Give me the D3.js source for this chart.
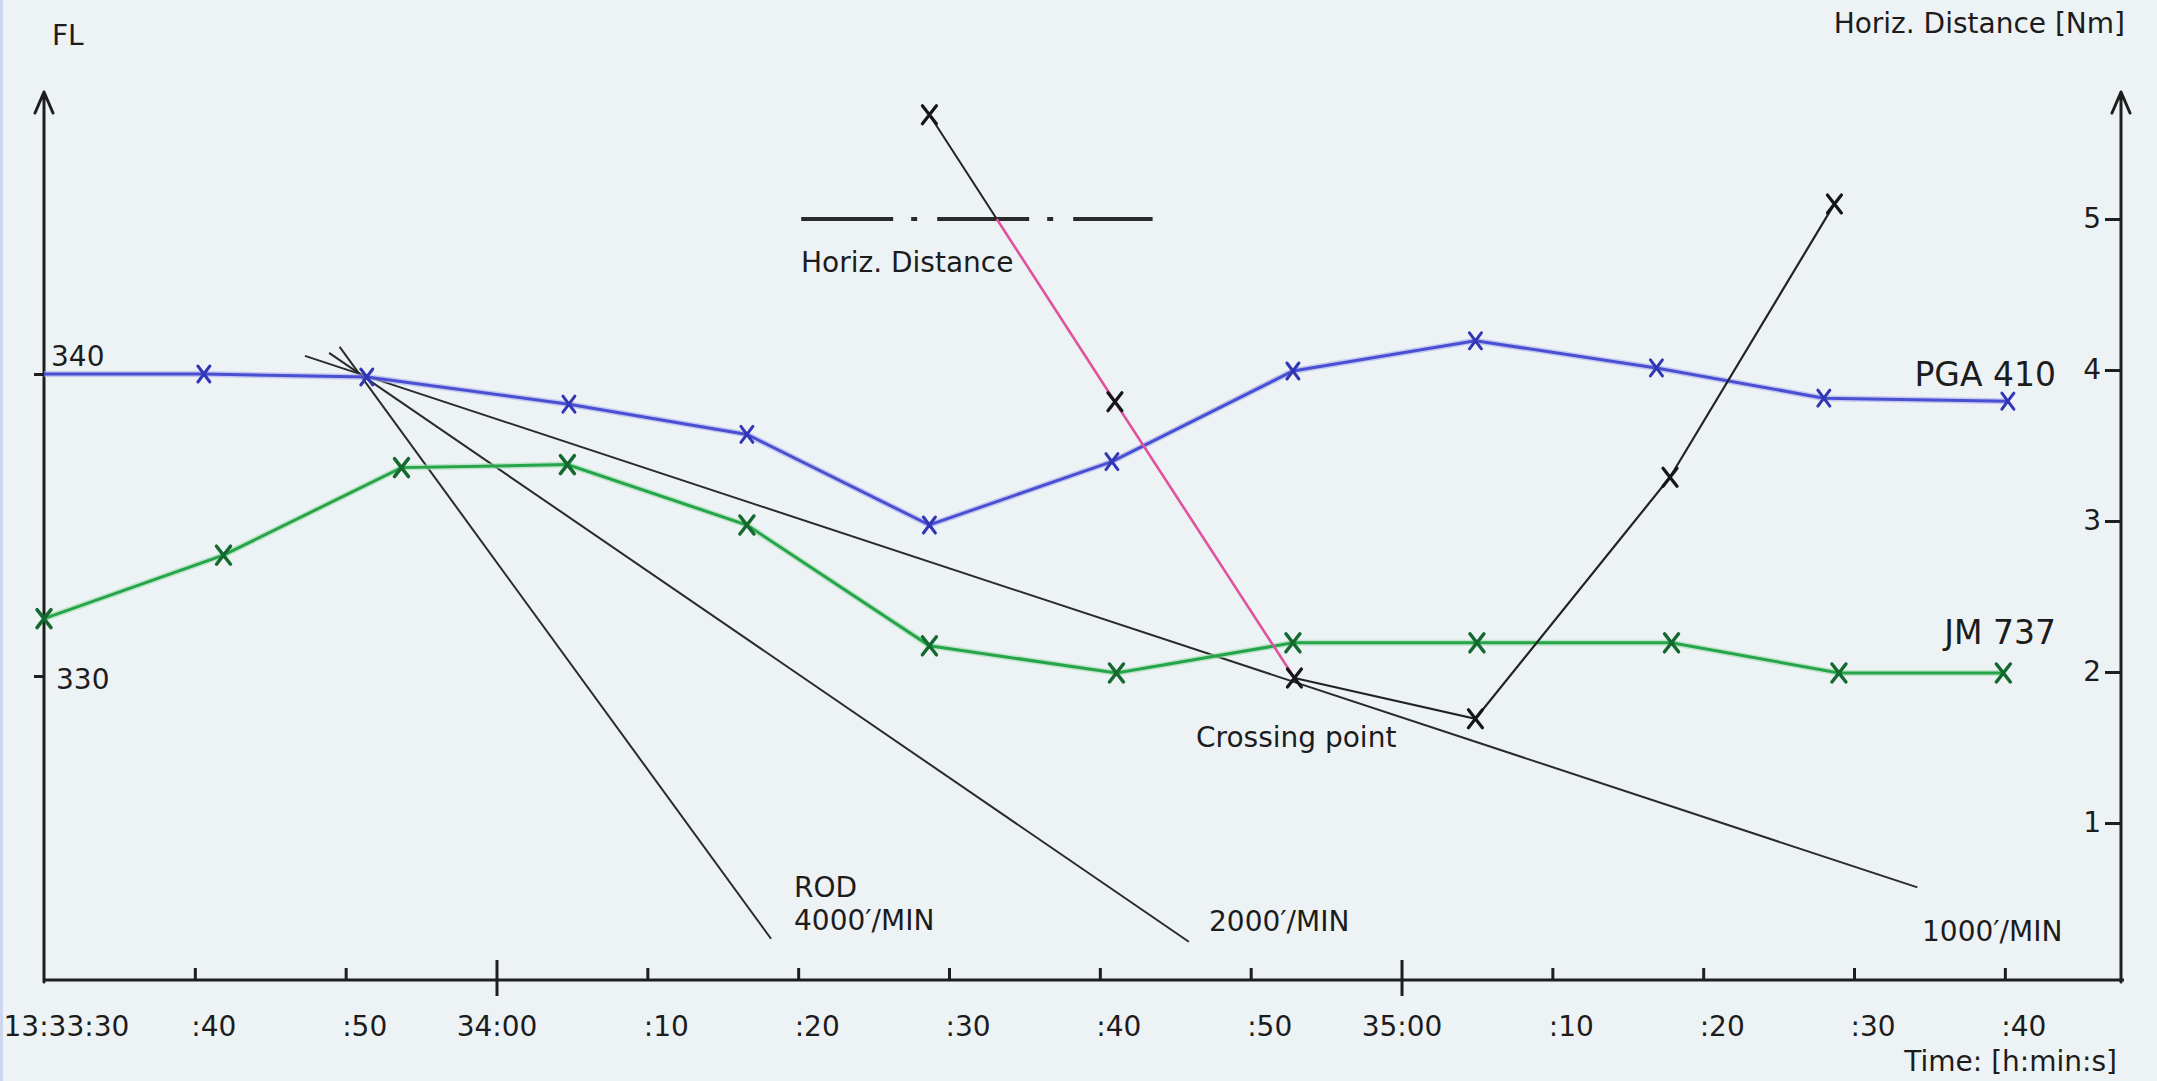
<!DOCTYPE html>
<html>
<head>
<meta charset="utf-8">
<script src="https://cdnjs.cloudflare.com/ajax/libs/d3/7.8.5/d3.min.js"></script>
<style>
html, body { margin: 0; padding: 0; background: #edf2f5; }
svg { display: block; }
text { font-family: "DejaVu Sans", Verdana, sans-serif; fill: #1c1c1c; }
</style>
</head>
<body>
<svg id="chart" width="2157" height="1081"></svg>
<script>
// --- data (time = seconds after 13:33:30) ---
var tickSec    = [0, 10, 20, 30, 40, 50, 60, 70, 80, 90, 100, 110, 120, 130];
var tickLabels = ["13:33:30", ":40", ":50", "34:00", ":10", ":20", ":30", ":40", ":50", "35:00", ":10", ":20", ":30", ":40"];
var flTicks = [330, 340];
var nmTicks = [1, 2, 3, 4, 5];

// PGA 410 (blue), flight level
var pgaTime   = [0, 10.6, 21.4, 34.8, 46.6, 58.7, 70.8, 82.8, 94.9, 106.9, 118.0, 130.2];
var pgaFL     = [340.0, 340.0, 339.9, 339.0, 338.0, 335.0, 337.1, 340.1, 341.1, 340.2, 339.2, 339.1];
var pgaMarker = [0, 1, 1, 1, 1, 1, 1, 1, 1, 1, 1, 1];

// JM 737 (green), flight level
var jmTime = [0, 11.9, 23.7, 34.7, 46.6, 58.7, 71.1, 82.8, 95.0, 107.9, 119.0, 129.9];
var jmFL   = [331.9, 334.0, 336.9, 337.0, 335.0, 331.0, 330.1, 331.1, 331.1, 331.1, 330.1, 330.1];

// horizontal distance between the two (Nm, right axis)
var distTime = [58.7, 71.0, 82.9, 94.9, 107.8, 118.7];
var distNm   = [5.69, 3.79, 1.96, 1.69, 3.29, 5.10];
var crossingIndex = 2;

// separation minimum (dash-dot line)
var sepNm = 5;
var sepTime = [50.2, 73.5];

// rate of descent guide lines
var rodLabels    = ["4000′/MIN", "2000′/MIN", "1000′/MIN"];
var rodStartTime = [19.6, 18.9, 17.3];
var rodStartFL   = [340.9, 340.7, 340.6];
var rodEndTime   = [48.2, 75.9, 124.2];
var rodEndFL     = [321.3, 321.2, 323.0];

// --- chart ---
var svg = d3.select("#chart");
var x0 = 44, x1 = 2121, yBase = 980, yTop = 92;

var t0 = new Date(2000, 0, 1, 13, 33, 30);
function at(s) { return new Date(t0.getTime() + s * 1000); }

var x  = d3.scaleTime().domain([at(0), at(137.7)]).range([x0, x1]);
var fl = d3.scaleLinear().domain([330, 340]).range([676, 374]);
var nm = d3.scaleLinear().domain([1, 5]).range([823, 219]);

svg.append("rect").attr("x", 0).attr("y", 0).attr("width", 3).attr("height", 1081).attr("fill", "#cdd6ef");

var ink = "#1e1e1e";

// x axis
var gx = svg.append("g").attr("transform", "translate(0," + yBase + ")")
	.call(d3.axisBottom(x).tickValues(tickSec.map(at)).tickSize(0)
		.tickFormat(function(d, i) { return tickLabels[i]; }));
gx.attr("font-size", null).attr("font-family", null);
gx.select(".domain").remove();
gx.selectAll(".tick text")
	.attr("font-size", 28)
	.attr("dy", null)
	.attr("y", 56)
	.attr("text-anchor", function(d, i) { return (i == 0 || tickLabels[i][0] == ":") ? "start" : "middle"; })
	.attr("x", function(d, i) { return i == 0 ? 3 - x0 : (tickLabels[i][0] == ":" ? -4 : 0); });
gx.selectAll(".tick")
	.filter(function(d, i) { return i > 0; })
	.append("line")
	.attr("stroke", ink).attr("stroke-width", 3)
	.attr("y1", function(d, i) { return tickLabels[i + 1][0] == ":" ? -12 : -20; })
	.attr("y2", function(d, i) { return tickLabels[i + 1][0] == ":" ? 0 : 16; });

svg.append("path")
	.attr("d", "M" + x0 + "," + yBase + "H" + (x1 + 3))
	.attr("stroke", ink).attr("stroke-width", 3).attr("fill", "none");

// left axis (FL)
var gl = svg.append("g").attr("transform", "translate(" + x0 + ",0)")
	.call(d3.axisLeft(fl).tickValues(flTicks).tickSize(10).tickFormat(""));
gl.select(".domain").remove();
gl.selectAll(".tick line").attr("stroke", ink).attr("stroke-width", 3);

// right axis (Nm)
var gr = svg.append("g").attr("transform", "translate(" + x1 + ",0)")
	.call(d3.axisLeft(nm).tickValues(nmTicks).tickSize(16).tickPadding(4).tickFormat(d3.format("d")));
gr.attr("font-size", null).attr("font-family", null);
gr.select(".domain").remove();
gr.selectAll(".tick line").attr("stroke", ink).attr("stroke-width", 3);
gr.selectAll(".tick text").attr("font-size", 28);

[x0, x1].forEach(function(ax) {
	svg.append("path")
		.attr("d", "M" + ax + "," + (yBase + 2) + "V" + yTop + "M" + (ax - 9) + "," + (yTop + 21) + "L" + ax + "," + yTop + "L" + (ax + 9) + "," + (yTop + 21))
		.attr("stroke", ink).attr("stroke-width", 3).attr("fill", "none")
		.attr("stroke-linejoin", "round").attr("stroke-linecap", "round");
});

// axis titles and FL tick labels
svg.append("text").attr("x", 52).attr("y", 45).attr("font-size", 28).text("FL");
svg.append("text").attr("x", 2125).attr("y", 33).attr("font-size", 28).attr("text-anchor", "end").text("Horiz. Distance [Nm]");
svg.append("text").attr("x", 2117).attr("y", 1071).attr("font-size", 28).attr("text-anchor", "end").text("Time: [h:min:s]");
svg.append("text").attr("x", 51).attr("y", fl(340) - 8).attr("font-size", 28).text(flTicks[1]);
svg.append("text").attr("x", 56).attr("y", fl(330) + 13).attr("font-size", 28).text(flTicks[0]);

// ROD guide lines
rodLabels.forEach(function(lab, i) {
	svg.append("line")
		.attr("x1", x(at(rodStartTime[i]))).attr("y1", fl(rodStartFL[i]))
		.attr("x2", x(at(rodEndTime[i]))).attr("y2", fl(rodEndFL[i]))
		.attr("stroke", "#2a2a2a").attr("stroke-width", 2);
});
svg.append("text").attr("x", 794).attr("y", 897).attr("font-size", 28).text("ROD");
svg.append("text").attr("x", 794).attr("y", 930).attr("font-size", 28).text(rodLabels[0]);
svg.append("text").attr("x", 1209).attr("y", 931).attr("font-size", 28).text(rodLabels[1]);
svg.append("text").attr("x", 1922).attr("y", 941).attr("font-size", 28).text(rodLabels[2]);

// flight level tracks
var flLine = d3.line().x(function(d) { return x(at(d[0])); }).y(function(d) { return fl(d[1]); });
var pga = d3.zip(pgaTime, pgaFL);
var jm  = d3.zip(jmTime, jmFL);

svg.append("path").datum(pga).attr("d", flLine)
	.attr("fill", "none").attr("stroke", "#a9acef").attr("stroke-width", 6).attr("opacity", 0.6);
svg.append("path").datum(pga).attr("d", flLine)
	.attr("fill", "none").attr("stroke", "#4a4fd2").attr("stroke-width", 3);
svg.append("path").datum(jm).attr("d", flLine)
	.attr("fill", "none").attr("stroke", "#9fdcae").attr("stroke-width", 6).attr("opacity", 0.6);
svg.append("path").datum(jm).attr("d", flLine)
	.attr("fill", "none").attr("stroke", "#25a44a").attr("stroke-width", 3);

// separation minimum
svg.append("line")
	.attr("x1", x(at(sepTime[0]))).attr("x2", x(at(sepTime[1])))
	.attr("y1", nm(sepNm)).attr("y2", nm(sepNm))
	.attr("stroke", "#2a2a2a").attr("stroke-width", 4)
	.attr("stroke-dasharray", "92 18 6 20");
svg.append("text").attr("x", 801).attr("y", 272).attr("font-size", 28).text("Horiz. Distance");

// horizontal distance track, pink where below the minimum until the crossing point
var dist = d3.zip(distTime, distNm);
var k = (distNm[0] - sepNm) / (distNm[0] - distNm[1]);
var tSep = distTime[0] + k * (distTime[1] - distTime[0]);
var nmLine = d3.line().x(function(d) { return x(at(d[0])); }).y(function(d) { return nm(d[1]); });

svg.append("path").datum([dist[0], [tSep, sepNm]]).attr("d", nmLine)
	.attr("fill", "none").attr("stroke", "#222").attr("stroke-width", 2);
svg.append("path").datum([[tSep, sepNm]].concat(dist.slice(1, crossingIndex + 1))).attr("d", nmLine)
	.attr("fill", "none").attr("stroke", "#e0529e").attr("stroke-width", 2.6);
svg.append("path").datum(dist.slice(crossingIndex)).attr("d", nmLine)
	.attr("fill", "none").attr("stroke", "#222").attr("stroke-width", 2.2);

svg.append("text").attr("x", 1196).attr("y", 747).attr("font-size", 28).text("Crossing point");

// markers
function cross(sel, sx, sy, colour, w) {
	sel.append("path")
		.attr("transform", function(d) { return "translate(" + d[0] + "," + d[1] + ")"; })
		.attr("d", "M" + (-sx) + "," + (-sy) + "L" + sx + "," + sy + "M" + (-sx) + "," + sy + "L" + sx + "," + (-sy))
		.attr("stroke", colour).attr("stroke-width", w).attr("fill", "none").attr("stroke-linecap", "round");
}

svg.append("g").selectAll("g")
	.data(pga.filter(function(d, i) { return pgaMarker[i]; }).map(function(d) { return [x(at(d[0])), fl(d[1])]; }))
	.enter().append("g").call(cross, 6, 8, "#3136b5", 3);
svg.append("g").selectAll("g")
	.data(jm.map(function(d) { return [x(at(d[0])), fl(d[1])]; }))
	.enter().append("g").call(cross, 7, 9, "#14692f", 3.5);
svg.append("g").selectAll("g")
	.data(dist.map(function(d) { return [x(at(d[0])), nm(d[1])]; }))
	.enter().append("g").call(cross, 7, 9, "#161616", 3.2);

// callsigns
svg.append("text").attr("x", 2056).attr("y", 386).attr("font-size", 33).attr("text-anchor", "end").text("PGA 410");
svg.append("text").attr("x", 2056).attr("y", 644).attr("font-size", 33).attr("text-anchor", "end").text("JM 737");
</script>
</body>
</html>
